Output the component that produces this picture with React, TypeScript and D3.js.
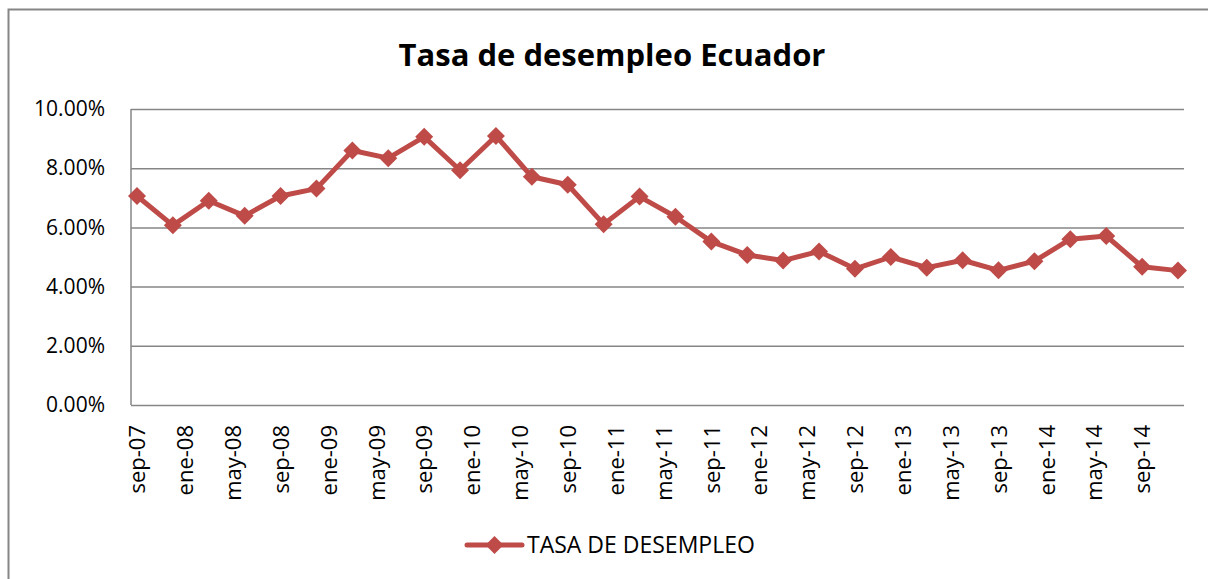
import React, { useEffect, useRef } from "react"
import * as d3 from "d3"

// quarterly observations, "YYYY-MM"
const periods = [
  "2007-09", "2007-12", "2008-03", "2008-06", "2008-09", "2008-12",
  "2009-03", "2009-06", "2009-09", "2009-12", "2010-03", "2010-06",
  "2010-09", "2010-12", "2011-03", "2011-06", "2011-09", "2011-12",
  "2012-03", "2012-06", "2012-09", "2012-12", "2013-03", "2013-06",
  "2013-09", "2013-12", "2014-03", "2014-06", "2014-09", "2014-12",
]
const desempleo = [
  7.06, 6.07, 6.90, 6.39, 7.06, 7.31,
  8.60, 8.34, 9.06, 7.93, 9.09, 7.71,
  7.44, 6.11, 7.04, 6.36, 5.52, 5.07,
  4.88, 5.19, 4.60, 5.00, 4.64, 4.89,
  4.55, 4.86, 5.60, 5.71, 4.67, 4.54,
]
const tickPeriods = [
  "2007-09", "2008-01", "2008-05", "2008-09", "2009-01", "2009-05",
  "2009-09", "2010-01", "2010-05", "2010-09", "2011-01", "2011-05",
  "2011-09", "2012-01", "2012-05", "2012-09", "2013-01", "2013-05",
  "2013-09", "2014-01", "2014-05", "2014-09",
]
const tickLabels = [
  "sep-07", "ene-08", "may-08", "sep-08", "ene-09", "may-09",
  "sep-09", "ene-10", "may-10", "sep-10", "ene-11", "may-11",
  "sep-11", "ene-12", "may-12", "sep-12", "ene-13", "may-13",
  "sep-13", "ene-14", "may-14", "sep-14",
]
const yTicks = [0, 2, 4, 6, 8, 10]

const title = "Tasa de desempleo Ecuador"
const seriesName = "TASA DE DESEMPLEO"

// months since sep-07
const monthIndex = (p: string) => {
  const [y, m] = p.split("-").map(Number)
  return (y - 2007) * 12 + (m - 9)
}

const W = 1208
const H = 579
const font = "'Open Sans', sans-serif"
const red = "#BE4B48"
const grey = "#868686"

const App = () => {
  const ref = useRef<SVGGElement>(null)

  useEffect(() => {
    const root = d3.select(ref.current)
    root.selectAll("*").remove()

    const margin = { top: 109, right: 24, bottom: 174, left: 131 }
    const innerWidth = W - margin.left - margin.right
    const innerHeight = H - margin.top - margin.bottom

    const firstM = monthIndex(periods[0])
    const lastM = monthIndex(periods[periods.length - 1])

    const xScale = d3.scaleLinear()
      .domain([firstM - 0.5, lastM + 0.5])
      .range([0, innerWidth])

    const yScale = d3.scaleLinear()
      .domain([0, 10])
      .range([innerHeight, 0])

    // chart frame: only the top and left edges are visible
    root.append("path")
      .attr("d", `M8.5,${H + 10}V9.5H${W + 10}`)
      .attr("fill", "none")
      .attr("stroke", grey)
      .attr("stroke-width", 2)

    root.append("text")
      .attr("x", 612)
      .attr("y", 66)
      .attr("text-anchor", "middle")
      .attr("font-family", font)
      .attr("font-weight", "bold")
      .attr("font-size", 31)
      .attr("fill", "black")
      .text(title)

    const g = root.append("g")
      .attr("transform", `translate(${margin.left}, ${margin.top})`)

    const yAxis = d3.axisLeft(yScale)
      .tickValues(yTicks)
      .tickSize(-innerWidth)
      .tickPadding(26)
      .tickFormat(d => `${(+d).toFixed(2)}%`)

    const yAxisG = g.append("g").call(yAxis)
    yAxisG.select(".domain").remove()
    yAxisG.selectAll("line")
      .attr("stroke", grey)
      .attr("stroke-width", 1.5)
    yAxisG.selectAll("text")
      .attr("font-family", font)
      .attr("font-size", 21)
      .attr("fill", "black")

    // left axis line
    g.append("line")
      .attr("x1", 0).attr("x2", 0)
      .attr("y1", 0).attr("y2", innerHeight)
      .attr("stroke", grey)
      .attr("stroke-width", 1.5)

    const xAxis = d3.axisBottom(xScale)
      .tickValues(tickPeriods.map(monthIndex))
      .tickSize(0)
      .tickFormat((d, i) => tickLabels[i])

    const xAxisG = g.append("g")
      .attr("transform", `translate(0, ${innerHeight})`)
      .call(xAxis)
    xAxisG.select(".domain").remove()
    xAxisG.selectAll("text")
      .attr("font-family", font)
      .attr("font-size", 22)
      .attr("fill", "black")
      .attr("text-anchor", "end")
      .attr("transform", "rotate(-90)")
      .attr("x", -20)
      .attr("y", 0)
      .attr("dy", "0.35em")

    const points = periods.map((p, i) => ({ m: monthIndex(p), v: desempleo[i] }))

    const line = d3.line<{ m: number; v: number }>()
      .x(d => xScale(d.m))
      .y(d => yScale(d.v))

    g.append("path")
      .datum(points)
      .attr("d", line)
      .attr("fill", "none")
      .attr("stroke", red)
      .attr("stroke-width", 5)
      .attr("stroke-linejoin", "round")

    const diamond = "M0,-9L9,0L0,9L-9,0Z"

    g.selectAll(".marker")
      .data(points)
      .enter().append("path")
        .attr("class", "marker")
        .attr("transform", d => `translate(${xScale(d.m)}, ${yScale(d.v)})`)
        .attr("d", diamond)
        .attr("fill", red)

    // legend
    const lg = root.append("g").attr("transform", "translate(467, 545)")
    lg.append("line")
      .attr("x1", 0).attr("x2", 55)
      .attr("y1", 0).attr("y2", 0)
      .attr("stroke", red)
      .attr("stroke-width", 5)
      .attr("stroke-linecap", "round")
    lg.append("path")
      .attr("transform", "translate(27.5, 0)")
      .attr("d", diamond)
      .attr("fill", red)
    lg.append("text")
      .attr("x", 60)
      .attr("y", 0)
      .attr("dy", "0.35em")
      .attr("font-family", font)
      .attr("font-size", 23)
      .attr("fill", "black")
      .text(seriesName)
  }, [])

  return (
    <svg width={W} height={H} style={{ position: "absolute", left: 0, top: 0 }}>
      <g ref={ref} />
    </svg>
  )
}

export default App
